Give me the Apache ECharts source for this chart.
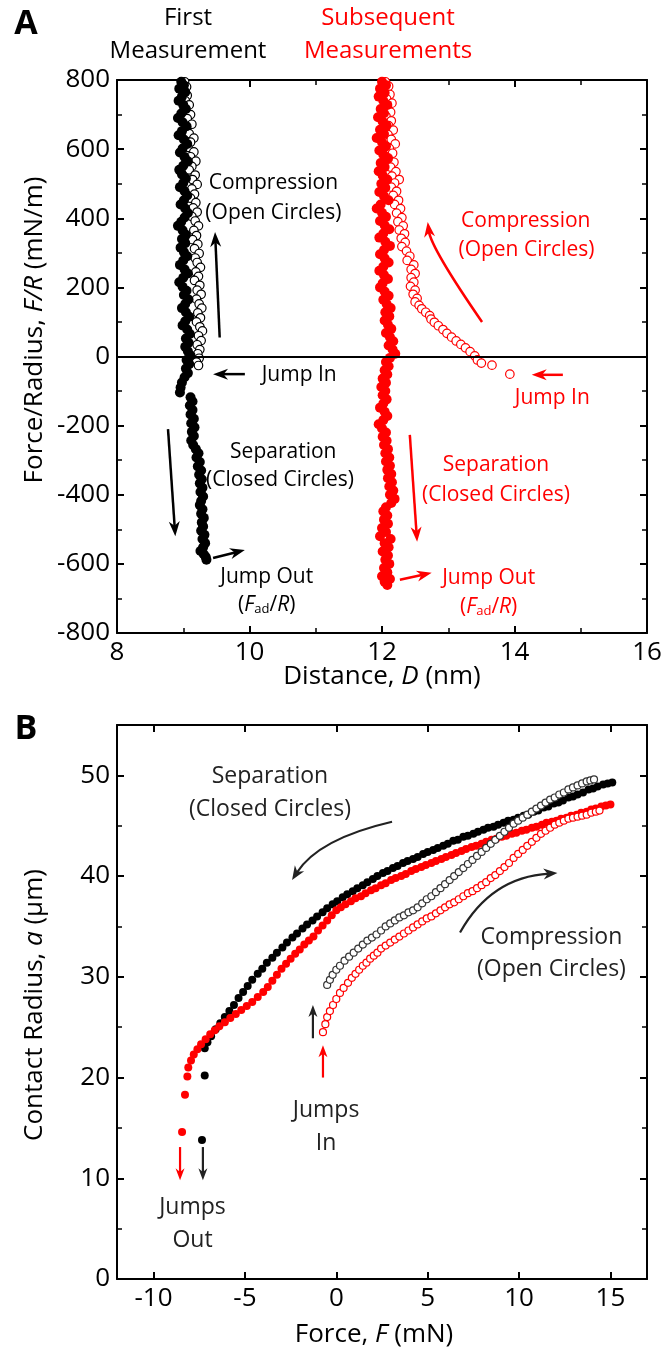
<!DOCTYPE html>
<html>
<head>
<meta charset="utf-8">
<script src="https://cdn.jsdelivr.net/npm/echarts@6/dist/echarts.min.js"></script>
<style>html,body{margin:0;padding:0;background:#fff}#c{width:665px;height:1356px}</style>
</head>
<body>
<div id="c"></div>
<script>
const FONT = '"Open Sans", "Noto Sans", "DejaVu Sans", sans-serif';

// ---------- Panel A : Distance D (nm) vs Force/Radius F/R (mN/m) ----------
const A_X_TICKS = [8, 10, 12, 14, 16];
const A_X_MINOR = [9, 11, 13, 15];
const A_Y_TICKS = [-800, -600, -400, -200, 0, 200, 400, 600, 800];
const A_Y_MINOR = [-700, -500, -300, -100, 100, 300, 500, 700];

// First measurement, compression (open circles)  [D, F/R]
const A_FIRST_COMPRESSION = [[9.02,795],[9.05,780],[8.99,770],[9.06,755],[9.03,740],[9.09,728],[9.01,712],[9.11,700],[9.06,688],[9.13,672],[9.05,660],[9.09,645],[9.16,632],[9.11,620],[9.07,605],[9.16,592],[9.11,578],[9.19,565],[9.13,550],[9.09,540],[9.18,525],[9.14,512],[9.21,498],[9.13,485],[9.17,470],[9.11,458],[9.19,445],[9.15,430],[9.21,418],[9.13,405],[9.18,392],[9.23,378],[9.16,365],[9.20,350],[9.14,338],[9.22,325],[9.17,312],[9.24,298],[9.18,285],[9.21,272],[9.26,258],[9.19,245],[9.23,232],[9.17,220],[9.25,206],[9.21,192],[9.27,180],[9.20,166],[9.24,152],[9.28,140],[9.22,126],[9.26,112],[9.20,100],[9.25,86],[9.29,74],[9.23,60],[9.27,46],[9.21,34],[9.25,20],[9.22,8],[9.24,-5],[9.20,-16],[9.23,-26]];
// First measurement, separation (closed circles)
const A_FIRST_SEPARATION = [[8.97,795],[9.01,785],[8.94,775],[9.03,765],[8.98,752],[8.93,740],[9.00,728],[9.04,716],[8.97,703],[8.92,690],[8.99,678],[9.05,666],[8.98,652],[8.93,640],[9.01,628],[9.06,615],[8.99,602],[8.95,590],[9.02,577],[9.07,565],[9.00,552],[8.94,540],[8.98,527],[9.04,515],[9.00,502],[8.95,490],[9.02,478],[9.06,466],[9.01,452],[8.96,440],[9.03,428],[9.07,415],[9.02,402],[8.97,390],[8.92,378],[8.99,365],[9.04,352],[8.98,340],[9.03,328],[8.96,315],[9.01,302],[9.06,290],[9.00,278],[8.95,265],[9.02,252],[9.07,240],[9.00,228],[8.94,215],[8.99,202],[9.05,190],[9.01,178],[9.08,165],[9.03,152],[8.98,140],[9.04,128],[9.09,115],[9.03,102],[8.99,90],[9.06,78],[9.10,65],[9.04,52],[9.08,40],[9.03,28],[9.07,15],[9.11,3],[9.05,-10],[9.09,-22],[9.04,-35],[9.07,-48],[9.02,-60],[8.98,-75],[8.96,-90],[8.95,-104],[9.11,-118],[9.14,-130],[9.10,-142],[9.14,-155],[9.11,-168],[9.16,-180],[9.12,-193],[9.17,-205],[9.13,-218],[9.16,-230],[9.12,-243],[9.15,-256],[9.19,-268],[9.23,-280],[9.20,-292],[9.25,-305],[9.22,-318],[9.27,-330],[9.24,-342],[9.28,-355],[9.25,-367],[9.29,-380],[9.26,-392],[9.30,-405],[9.27,-418],[9.25,-430],[9.29,-442],[9.27,-455],[9.31,-467],[9.28,-480],[9.30,-492],[9.27,-504],[9.32,-516],[9.29,-528],[9.33,-540],[9.30,-552],[9.26,-563],[9.31,-572],[9.34,-580],[9.35,-588]];
// Subsequent measurements, compression (open circles)
const A_SUBSEQ_COMPRESSION = [[12.05,795],[12.10,782],[12.02,770],[12.12,758],[12.07,745],[12.15,733],[12.08,720],[12.13,707],[12.06,695],[12.14,682],[12.10,668],[12.17,655],[12.09,642],[12.14,628],[12.20,615],[12.11,602],[12.16,588],[12.09,575],[12.18,562],[12.13,548],[12.21,535],[12.15,522],[12.26,512],[12.19,502],[12.14,490],[12.22,478],[12.17,466],[12.25,452],[12.19,440],[12.28,428],[12.22,415],[12.30,402],[12.24,390],[12.32,378],[12.26,366],[12.34,355],[12.29,342],[12.35,330],[12.30,318],[12.37,305],[12.42,290],[12.38,278],[12.48,265],[12.44,252],[12.50,240],[12.44,228],[12.48,215],[12.43,203],[12.50,192],[12.47,180],[12.53,168],[12.50,158],[12.56,148],[12.60,138],[12.66,128],[12.72,118],[12.74,108],[12.79,99],[12.85,89],[12.92,78],[12.98,67],[13.05,56],[13.12,45],[13.19,35],[13.26,25],[13.33,14],[13.40,2],[13.44,-10],[13.50,-19],[13.66,-25],[13.93,-51]];
// Subsequent measurements, separation (closed circles)
const A_SUBSEQ_SEPARATION = [[12.00,795],[12.06,785],[11.97,775],[12.04,763],[11.95,752],[12.02,740],[12.08,728],[11.98,716],[12.03,704],[11.94,692],[12.01,680],[12.07,668],[11.97,656],[12.03,644],[11.92,632],[12.00,620],[12.06,608],[11.96,596],[12.02,584],[12.09,572],[11.98,560],[12.04,548],[11.95,536],[12.01,524],[12.08,512],[11.99,500],[12.05,488],[11.96,476],[12.03,464],[12.10,452],[11.98,440],[11.92,428],[12.00,416],[12.06,404],[11.97,392],[12.04,380],[12.11,368],[12.02,356],[11.96,344],[12.05,332],[12.12,320],[12.03,308],[11.97,296],[12.04,284],[12.10,272],[12.02,260],[11.96,248],[12.03,236],[12.09,224],[12.01,212],[11.97,200],[12.04,188],[12.10,176],[12.02,164],[12.07,152],[12.13,140],[12.05,128],[12.11,116],[12.04,104],[12.09,92],[12.14,80],[12.06,68],[12.12,56],[12.17,44],[12.10,32],[12.16,20],[12.20,8],[12.12,-4],[12.06,-16],[12.10,-28],[12.04,-40],[12.08,-52],[12.01,-64],[12.06,-76],[11.99,-88],[12.05,-100],[12.01,-112],[12.07,-124],[12.02,-136],[11.97,-148],[12.04,-160],[12.08,-172],[12.02,-184],[11.95,-196],[12.00,-208],[12.06,-220],[12.01,-232],[12.07,-244],[12.03,-256],[12.09,-268],[12.05,-280],[12.11,-292],[12.06,-304],[12.12,-316],[12.08,-328],[12.14,-340],[12.09,-352],[12.15,-364],[12.11,-376],[12.17,-388],[12.12,-400],[12.19,-412],[12.14,-424],[12.06,-436],[12.02,-448],[12.08,-460],[12.03,-472],[12.09,-484],[12.00,-496],[12.06,-508],[11.97,-520],[12.13,-528],[12.04,-540],[12.10,-552],[12.01,-564],[12.09,-576],[12.05,-588],[12.11,-600],[12.03,-612],[12.08,-624],[12.00,-636],[12.12,-644],[12.04,-652],[12.08,-661]];

// ---------- Panel B : Force F (mN) vs Contact radius a (um) ----------
const B_X_TICKS = [-10, -5, 0, 5, 10, 15];
const B_Y_TICKS = [0, 10, 20, 30, 40, 50];
const B_Y_MINOR = [5, 15, 25, 35, 45];

const B_FIRST_SEPARATION = [[15.10,49.3],[14.85,49.2],[14.6,49.1],[14.3,48.9],[14.05,48.7],[13.8,48.6],[13.5,48.3],[13.2,48.1],[12.95,47.9],[12.7,47.8],[12.4,47.5],[12.15,47.3],[11.9,47.2],[11.6,46.9],[11.35,46.8],[11.05,46.5],[10.8,46.4],[10.5,46.1],[10.25,46.0],[9.95,45.8],[9.7,45.6],[9.4,45.5],[9.15,45.3],[8.85,45.1],[8.6,44.9],[8.3,44.8],[8.05,44.6],[7.75,44.4],[7.5,44.2],[7.2,44.0],[6.95,43.9],[6.65,43.6],[6.4,43.5],[6.1,43.2],[5.85,43.0],[5.55,42.8],[5.3,42.6],[5.0,42.4],[4.75,42.2],[4.45,41.9],[4.2,41.7],[3.9,41.5],[3.65,41.3],[3.35,41.0],[3.1,40.8],[2.8,40.5],[2.55,40.3],[2.25,40.0],[2.0,39.7],[1.7,39.4],[1.45,39.1],[1.15,38.8],[0.9,38.5],[0.6,38.2],[0.35,37.9],[0.05,37.5],[-0.2,37.2],[-0.5,36.8],[-0.75,36.4],[-1.05,36.0],[-1.3,35.6],[-1.6,35.2],[-1.85,34.8],[-2.15,34.3],[-2.4,33.9],[-2.7,33.4],[-2.95,32.9],[-3.25,32.4],[-3.5,31.9],[-3.8,31.4],[-4.05,30.8],[-4.3,30.3],[-4.6,29.7],[-4.85,29.1],[-5.1,28.5],[-5.35,27.9],[-5.6,27.2],[-5.85,26.6],[-6.1,26.0],[-6.35,25.4],[-6.6,24.8],[-6.85,24.1],[-7.05,23.5],[-7.2,22.9],[-7.2,20.2],[-7.35,13.8]];
const B_SUBSEQ_SEPARATION = [[15.0,47.1],[14.75,47.0],[14.5,46.9],[14.2,46.7],[13.95,46.6],[13.7,46.4],[13.4,46.3],[13.15,46.1],[12.85,46.0],[12.6,45.8],[12.3,45.7],[12.05,45.5],[11.8,45.4],[11.5,45.3],[11.25,45.1],[10.95,44.9],[10.7,44.8],[10.4,44.6],[10.15,44.5],[9.85,44.3],[9.6,44.2],[9.3,44.0],[9.05,43.9],[8.75,43.7],[8.5,43.6],[8.2,43.4],[7.95,43.2],[7.65,43.0],[7.4,42.9],[7.1,42.7],[6.85,42.5],[6.55,42.3],[6.3,42.1],[6.0,41.9],[5.75,41.7],[5.45,41.5],[5.2,41.3],[4.9,41.1],[4.65,40.9],[4.35,40.7],[4.1,40.5],[3.8,40.2],[3.55,40.0],[3.25,39.8],[3.0,39.6],[2.7,39.3],[2.45,39.1],[2.15,38.8],[1.9,38.6],[1.6,38.3],[1.35,38.0],[1.05,37.8],[0.8,37.5],[0.5,37.2],[0.25,36.9],[0.0,36.6],[-0.25,36.1],[-0.5,35.6],[-0.75,35.1],[-1.0,34.6],[-1.25,34.0],[-1.5,33.6],[-1.75,33.2],[-2.0,32.7],[-2.25,32.3],[-2.5,31.8],[-2.75,31.3],[-3.0,30.8],[-3.25,30.2],[-3.5,29.6],[-3.75,29.0],[-4.0,28.5],[-4.3,28.0],[-4.6,27.5],[-4.9,27.1],[-5.2,26.7],[-5.5,26.3],[-5.8,25.9],[-6.1,25.5],[-6.4,25.1],[-6.65,24.7],[-6.9,24.3],[-7.15,23.8],[-7.4,23.3],[-7.6,22.8],[-7.8,22.3],[-7.95,21.7],[-8.1,21.0],[-8.15,20.1],[-8.28,18.3],[-8.44,14.6]];
const B_FIRST_COMPRESSION = [[-0.50,29.2],[-0.35,29.7],[-0.2,30.2],[0.0,30.7],[0.2,31.1],[0.45,31.6],[0.7,32.0],[0.95,32.4],[1.2,32.8],[1.45,33.2],[1.7,33.6],[1.95,33.9],[2.2,34.2],[2.45,34.6],[2.7,35.0],[2.95,35.3],[3.2,35.6],[3.45,35.9],[3.7,36.1],[3.95,36.4],[4.2,36.6],[4.45,36.9],[4.7,37.3],[4.95,37.7],[5.2,38.0],[5.45,38.4],[5.7,38.8],[5.95,39.2],[6.2,39.6],[6.45,40.0],[6.7,40.4],[6.95,40.8],[7.2,41.2],[7.45,41.6],[7.7,42.0],[7.95,42.4],[8.2,42.8],[8.45,43.2],[8.7,43.6],[8.95,44.0],[9.2,44.4],[9.45,44.8],[9.7,45.2],[9.95,45.5],[10.2,45.8],[10.45,46.1],[10.7,46.4],[10.95,46.7],[11.2,47.0],[11.45,47.3],[11.7,47.6],[11.95,47.8],[12.2,48.1],[12.45,48.3],[12.7,48.6],[12.95,48.8],[13.2,49.0],[13.45,49.2],[13.7,49.4],[13.9,49.5],[14.1,49.6]];
const B_SUBSEQ_COMPRESSION = [[-0.73,24.5],[-0.6,25.3],[-0.5,26.0],[-0.35,26.6],[-0.18,27.2],[0.0,27.8],[0.2,28.4],[0.4,28.9],[0.64,29.4],[0.85,29.9],[1.05,30.3],[1.25,30.7],[1.45,31.1],[1.65,31.4],[1.85,31.8],[2.05,32.1],[2.25,32.4],[2.45,32.8],[2.7,33.1],[2.95,33.4],[3.2,33.7],[3.45,34.0],[3.7,34.3],[3.95,34.6],[4.2,34.9],[4.45,35.2],[4.7,35.5],[4.95,35.8],[5.2,36.0],[5.45,36.3],[5.7,36.6],[5.95,36.9],[6.2,37.2],[6.45,37.4],[6.7,37.7],[6.95,38.0],[7.2,38.3],[7.45,38.5],[7.7,38.8],[7.95,39.1],[8.2,39.4],[8.45,39.8],[8.7,40.1],[8.95,40.5],[9.2,40.9],[9.45,41.3],[9.7,41.8],[9.95,42.2],[10.2,42.6],[10.45,43.0],[10.7,43.4],[10.95,43.8],[11.2,44.2],[11.45,44.5],[11.7,44.8],[11.95,45.1],[12.2,45.3],[12.45,45.5],[12.7,45.7],[12.95,45.8],[13.2,45.9],[13.45,46.0],[13.7,46.1],[13.95,46.3],[14.2,46.4],[14.4,46.5]];

// ---------- Annotations (data coordinates) ----------
const A_LABELS = [
  {t:'Compression', at:[10.36,502], c:'#000'}, {t:'(Open Circles)', at:[10.36,415], c:'#000'},
  {t:'Jump In', at:[10.75,-53], c:'#000'},
  {t:'Separation', at:[10.51,-276], c:'#000'}, {t:'(Closed Circles)', at:[10.46,-357], c:'#000'},
  {t:'Jump Out', at:[10.26,-638], c:'#000'}, {t:'({i|F}{s|ad}/{i|R})', at:[10.26,-719], c:'#000'},
  {t:'Compression', at:[14.17,392], c:'#ff0000'}, {t:'(Open Circles)', at:[14.18,308], c:'#ff0000'},
  {t:'Jump In', at:[14.57,-120], c:'#ff0000'},
  {t:'Separation', at:[13.72,-314], c:'#ff0000'}, {t:'(Closed Circles)', at:[13.72,-401], c:'#ff0000'},
  {t:'Jump Out', at:[13.61,-641], c:'#ff0000'}, {t:'({i|F}{s|ad}/{i|R})', at:[13.61,-725], c:'#ff0000'}
];
const A_ARROWS = [
  {from:[9.55,55], to:[9.48,360], c:'#000'},
  {from:[9.93,-51], to:[9.45,-51], c:'#000'},
  {from:[8.77,-210], to:[8.88,-520], c:'#000'},
  {from:[9.45,-583], to:[9.93,-560], c:'#000'},
  {from:[13.51,100], to:[12.69,389], ctrl:[12.74,314], c:'#ff0000'},
  {from:[14.73,-53], to:[14.26,-53], c:'#ff0000'},
  {from:[12.42,-227], to:[12.53,-536], c:'#ff0000'},
  {from:[12.27,-646], to:[12.75,-626], c:'#ff0000'}
];
const B_LABELS = [
  {t:'Separation', at:[-3.63,49.85], c:'#222'}, {t:'(Closed Circles)', at:[-3.63,46.57], c:'#222'},
  {t:'Compression', at:[11.77,33.86], c:'#222'}, {t:'(Open Circles)', at:[11.77,30.7], c:'#222'},
  {t:'Jumps', at:[-0.56,16.78], c:'#222'}, {t:'In', at:[-0.56,13.5], c:'#222'},
  {t:'Jumps', at:[-7.87,7.15], c:'#222'}, {t:'Out', at:[-7.87,3.87], c:'#222'}
];
const B_ARROWS = [
  {from:[3.05,45.4], to:[-2.42,39.6], ctrl:[-1.0,43.7], c:'#222'},
  {from:[6.77,34.4], to:[12.1,40.3], ctrl:[8.46,39.9], c:'#222'},
  {from:[-1.28,23.9], to:[-1.28,27.2], c:'#222', small:true},
  {from:[-0.73,20.0], to:[-0.73,23.2], c:'#ff0000', small:true},
  {from:[-8.55,13.1], to:[-8.55,9.8], c:'#ff0000', small:true},
  {from:[-7.3,13.1], to:[-7.3,9.8], c:'#222', small:true}
];

// ---------- chart ----------
const chart = echarts.init(document.getElementById('c'), null, {renderer:'canvas'});

function axis(grid, pos, min, max, ticks, minor, labels) {
  return {
    type:'value', gridIndex:grid, position:pos, min:min, max:max,
    axisLine:{show:!minor, onZero:false, lineStyle:{color:'#000', width:2}},
    axisTick:{show:true, inside:true, length: minor ? 5 : 7, customValues:ticks,
              lineStyle:{color:'#000', width: minor ? 1.5 : 2}},
    axisLabel:{show:labels, customValues:ticks, fontSize:26, color:'#000', fontFamily:FONT, margin:7},
    splitLine:{show:false}, minorTick:{show:false}
  };
}
function sc(data, xi, yi, color, open, size, z) {
  return {
    type:'scatter', xAxisIndex:xi, yAxisIndex:yi, data:data, symbol:'circle', symbolSize:size, z:z,
    itemStyle: open ? {color:'#fff', borderColor:color, borderWidth:1.2, opacity:1}
                    : {color:color, borderWidth:0, opacity:1},
    emphasis:{disabled:true}, silent:true, animation:false
  };
}

const option = {
  animation:false,
  backgroundColor:'#fff',
  grid:[
    {left:117, top:80, width:530, height:553},
    {left:117, top:725, width:530, height:554}
  ],
  xAxis:[
    axis(0,'bottom',8,16,A_X_TICKS,false,true),
    axis(0,'bottom',8,16,A_X_MINOR,true,false),
    axis(0,'top',8,16,A_X_TICKS,false,false),
    axis(0,'top',8,16,A_X_MINOR,true,false),
    axis(1,'bottom',-12,17,B_X_TICKS,false,true),
    axis(1,'top',-12,17,B_X_TICKS,false,false)
  ],
  yAxis:[
    axis(0,'left',-800,800,A_Y_TICKS,false,true),
    axis(0,'left',-800,800,A_Y_MINOR,true,false),
    axis(0,'right',-800,800,A_Y_TICKS,false,false),
    axis(0,'right',-800,800,A_Y_MINOR,true,false),
    axis(1,'left',0,55,B_Y_TICKS,false,true),
    axis(1,'left',0,55,B_Y_MINOR,true,false),
    axis(1,'right',0,55,B_Y_TICKS,false,false),
    axis(1,'right',0,55,B_Y_MINOR,true,false)
  ],
  series:[
    Object.assign(sc(A_FIRST_COMPRESSION,0,0,'#000',true,8.5,2), {
      markLine:{silent:true, symbol:'none', animation:false, label:{show:false},
        lineStyle:{color:'#000', width:2, type:'solid'}, data:[{yAxis:0}]}
    }),
    sc(A_SUBSEQ_COMPRESSION,0,0,'#ff0000',true,8.5,2),
    sc(A_FIRST_SEPARATION,0,0,'#000',false,10,3),
    sc(A_SUBSEQ_SEPARATION,0,0,'#ff0000',false,10,3),
    sc(B_FIRST_SEPARATION,4,4,'#000',false,8,2),
    sc(B_SUBSEQ_SEPARATION,4,4,'#ff0000',false,8,3),
    sc(B_FIRST_COMPRESSION,4,4,'#333',true,7,4),
    sc(B_SUBSEQ_COMPRESSION,4,4,'#ff0000',true,7,4)
  ]
};
chart.setOption(option);

// ---------- graphics: arrows + texts positioned through the axes ----------
const g = [];
function px(gi, p){ return chart.convertToPixel({gridIndex:gi}, p); }
function addArrow(gi, a, lw, headL, headW) {
  const p0 = px(gi, a.from), p1 = px(gi, a.to);
  let tan;
  if (a.ctrl) { const c = px(gi, a.ctrl); tan = [p1[0]-c[0], p1[1]-c[1]]; }
  else tan = [p1[0]-p0[0], p1[1]-p0[1]];
  const L = Math.hypot(tan[0], tan[1]); const u = [tan[0]/L, tan[1]/L]; const n = [-u[1], u[0]];
  const end = [p1[0]-u[0]*headL*0.6, p1[1]-u[1]*headL*0.6];
  if (a.ctrl) {
    const c = px(gi, a.ctrl);
    g.push({type:'bezierCurve', silent:true, z:50,
      shape:{x1:p0[0], y1:p0[1], x2:end[0], y2:end[1], cpx1:c[0], cpy1:c[1]},
      style:{stroke:a.c, lineWidth:lw, fill:null}});
  } else {
    g.push({type:'line', silent:true, z:50,
      shape:{x1:p0[0], y1:p0[1], x2:end[0], y2:end[1]}, style:{stroke:a.c, lineWidth:lw}});
  }
  const back = [p1[0]-u[0]*headL, p1[1]-u[1]*headL];
  const notch = [p1[0]-u[0]*headL*0.7, p1[1]-u[1]*headL*0.7];
  g.push({type:'polygon', silent:true, z:51,
    shape:{points:[p1, [back[0]+n[0]*headW/2, back[1]+n[1]*headW/2], notch, [back[0]-n[0]*headW/2, back[1]-n[1]*headW/2]]},
    style:{fill:a.c, stroke:null}});
}
function addText(x, y, t, color, size, rot) {
  const rich = {
    i:{fontStyle:'italic', fontSize:size, fontFamily:FONT, fill:color},
    s:{fontSize:Math.round(size*0.6), fontFamily:FONT, fill:color, verticalAlign:'bottom'}
  };
  g.push({type:'text', silent:true, z:60, x:x, y:y, rotation:rot||0,
    style:{text:t, fill:color, fontSize:size, fontFamily:FONT, rich:rich,
           textAlign:'center', textVerticalAlign:'middle', align:'center', verticalAlign:'middle'}});
}
A_ARROWS.forEach(a => addArrow(0, a, 2.5, 15, 11));
B_ARROWS.forEach(a => addArrow(1, a, 2.2, a.small ? 12 : 14, a.small ? 9 : 11));
A_LABELS.forEach(l => { const p = px(0, l.at); addText(p[0], p[1], l.t, l.c, 21); });
B_LABELS.forEach(l => { const p = px(1, l.at); addText(p[0], p[1], l.t, l.c, 23); });

// headers, panel letters, axis titles
addText(188, 18, 'First', '#000', 24);
addText(188, 51, 'Measurement', '#000', 24);
addText(388, 18, 'Subsequent', '#ff0000', 24);
addText(388, 51, 'Measurements', '#ff0000', 24);
g.push({type:'text', silent:true, z:60, x:26, y:24, style:{text:'A', fill:'#000', fontSize:34, fontWeight:'bold', fontFamily:FONT, textAlign:'center', textVerticalAlign:'middle', align:'center', verticalAlign:'middle'}});
g.push({type:'text', silent:true, z:60, x:26, y:729, style:{text:'B', fill:'#000', fontSize:34, fontWeight:'bold', fontFamily:FONT, textAlign:'center', textVerticalAlign:'middle', align:'center', verticalAlign:'middle'}});
addText(382, 677, 'Distance, {i|D} (nm)', '#000', 26);
addText(35, 330, 'Force/Radius, {i|F/R} (mN/m)', '#000', 26, Math.PI/2);
addText(374, 1335, 'Force, {i|F} (mN)', '#000', 26);
addText(35, 1005, 'Contact Radius, {i|a} (\u03bcm)', '#000', 26, Math.PI/2);

chart.setOption({graphic:{elements:g}});
</script>
</body>
</html>
